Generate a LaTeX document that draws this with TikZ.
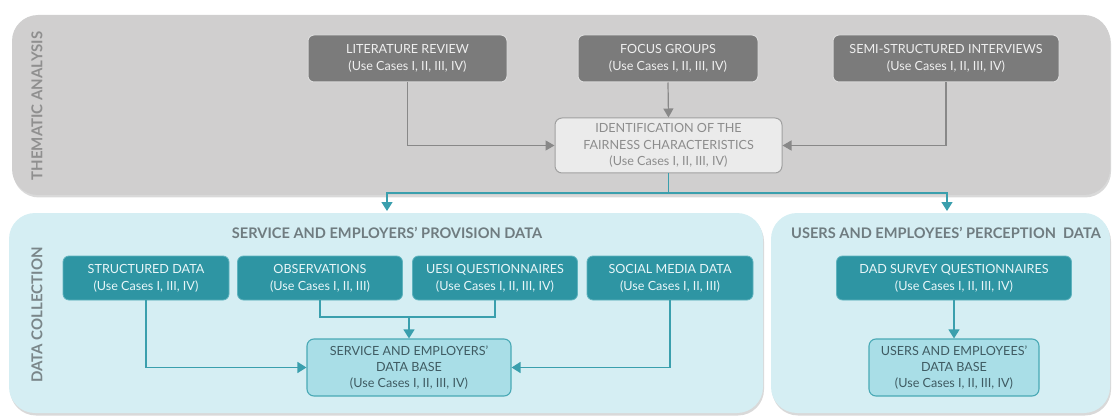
\documentclass[tikz,border=0pt]{standalone}
\usepackage{fontspec}
\setmainfont{Lato}
\usetikzlibrary{arrows.meta,shadows}
\definecolor{panelgray}{HTML}{D0CFCF}
\definecolor{darkbox}{HTML}{7B7B7B}
\definecolor{darkboxline}{HTML}{DADADA}
\definecolor{darktext}{HTML}{EFEFEF}
\definecolor{idfill}{HTML}{EBEBEB}
\definecolor{idline}{HTML}{A0A0A0}
\definecolor{idtext}{HTML}{8C8C8C}
\definecolor{grayline}{HTML}{888888}
\definecolor{panelteal}{HTML}{D5EEF3}
\definecolor{tealbox}{HTML}{2E95A3}
\definecolor{tealboxline}{HTML}{5FB3BE}
\definecolor{tealtext}{HTML}{E8F6F8}
\definecolor{dbfill}{HTML}{A9DEE7}
\definecolor{dbline}{HTML}{49A9B5}
\definecolor{dbtext}{HTML}{3F5B62}
\definecolor{titletext}{HTML}{6F7C80}
\definecolor{tealline}{HTML}{3A9FAD}
\definecolor{sidegray}{HTML}{8F8F8F}
\definecolor{sideteal}{HTML}{7A8689}
\begin{document}
\begin{tikzpicture}[x=1pt,y=-1pt,
  every node/.style={font=\fontsize{12.6}{16.8}\selectfont, align=center, inner sep=0pt},
  panelbox/.style={rounded corners=26pt, drop shadow={opacity=0.3, shadow xshift=1pt, shadow yshift=-2.5pt}},
  darkbx/.style={draw=darkboxline, line width=1pt, fill=darkbox, text=darktext, rounded corners=6pt, minimum height=47pt},
  idbx/.style={draw=idline, line width=1pt, fill=idfill, text=idtext, rounded corners=7pt, minimum height=55pt},
  tealbx/.style={draw=tealboxline, line width=0.8pt, fill=tealbox, text=tealtext, rounded corners=6pt, minimum height=44pt},
  dbbx/.style={draw=dbline, line width=1.1pt, fill=dbfill, text=dbtext, rounded corners=7pt, minimum height=57pt},
  garrow/.style={draw=grayline, line width=1.2pt, -{Triangle[width=10pt,length=9pt]}},
  tlinestyle/.style={draw=tealline, line width=1.3pt},
  tarrow/.style={draw=tealline, line width=1.3pt, -{Triangle[width=11pt,length=9pt]}},
  titlestyle/.style={font=\fontsize{14.6}{17}\selectfont\bfseries, text=titletext},
  sidestyle/.style={font=\fontsize{15}{17}\selectfont\bfseries, rotate=90}
]
\useasboundingbox (0,0) rectangle (1117,417);
% panels
\node[panelbox, fill=panelgray, minimum width=1098pt, minimum height=180pt] (panelT) at (561,105) {};
\node[panelbox, fill=panelteal, minimum width=754pt, minimum height=200pt] (panelL) at (386,313) {};
\node[panelbox, fill=panelteal, minimum width=339pt, minimum height=200pt] (panelR) at (940.5,313) {};
% side labels
\node[sidestyle, text=sidegray] (lblT) at (37,106) {THEMATIC ANALYSIS};
\node[sidestyle, text=sideteal] (lblB) at (37,315) {DATA COLLECTION};
% titles
\node[titlestyle] (titleL) at (387,233) {SERVICE AND EMPLOYERS' PROVISION DATA};
\node[titlestyle] (titleR) at (946,233) {USERS AND EMPLOYEES' PERCEPTION\ \ DATA};
% top boxes
\node[darkbx, minimum width=199pt] (LR) at (407.5,58.5) {LITERATURE REVIEW\\(Use Cases I, II, III, IV)};
\node[darkbx, minimum width=180pt] (FG) at (668,58.5) {FOCUS GROUPS\\(Use Cases I, II, III, IV)};
\node[darkbx, minimum width=226pt] (SS) at (946,58.5) {SEMI-STRUCTURED INTERVIEWS\\(Use Cases I, II, III, IV)};
\node[idbx, minimum width=227pt, font=\fontsize{12.6}{16.3}\selectfont] (ID) at (668.5,145.5) {IDENTIFICATION OF THE\\FAIRNESS CHARACTERISTICS\\(Use Cases I, II, III, IV)};
% bottom boxes
\node[tealbx, minimum width=166pt] (SD) at (146,278) {STRUCTURED DATA\\(Use Cases I, III, IV)};
\node[tealbx, minimum width=165pt] (OB) at (320,278) {OBSERVATIONS\\(Use Cases I, II, III)};
\node[tealbx, minimum width=165pt] (UE) at (495,278) {UESI QUESTIONNAIRES\\(Use Cases I, II, III, IV)};
\node[tealbx, minimum width=166pt] (SM) at (670,278) {SOCIAL MEDIA DATA\\(Use Cases I, II, III)};
\node[dbbx, minimum width=204pt, font=\fontsize{12.6}{16.3}\selectfont] (SDB) at (409,367.5) {SERVICE AND EMPLOYERS'\\DATA BASE\\(Use Cases I, II, III, IV)};
\node[tealbx, minimum width=235pt] (DAD) at (954,278) {DAD SURVEY QUESTIONNAIRES\\(Use Cases I, II, III, IV)};
\node[dbbx, minimum width=170pt, font=\fontsize{12.6}{16.3}\selectfont] (UDB) at (954,367.5) {USERS AND EMPLOYEES'\\DATA BASE\\(Use Cases I, II, III, IV)};
% gray connectors
\draw[garrow] (LR.south) |- (ID.west);
\draw[garrow] (FG.south) -- (ID.north);
\draw[garrow] (SS.south) |- (ID.east);
% teal split
\coordinate (jn) at (668.5,193);
\coordinate (tl) at (387,211);
\coordinate (tr) at (947,211);
\draw[tlinestyle] (ID.south) -- (jn);
\draw[tarrow] (jn) -| (tl);
\draw[tarrow] (jn) -| (tr);
% bottom connectors
\coordinate (mj) at (409,317);
\draw[tarrow] (SD.south) |- (SDB.west);
\draw[tlinestyle] (OB.south) |- (mj);
\draw[tlinestyle] (UE.south) |- (mj);
\draw[tarrow] (mj) -- (SDB.north);
\draw[tarrow] (SM.south) |- (SDB.east);
\draw[tarrow] (DAD.south) -- (UDB.north);
\end{tikzpicture}
\end{document}
